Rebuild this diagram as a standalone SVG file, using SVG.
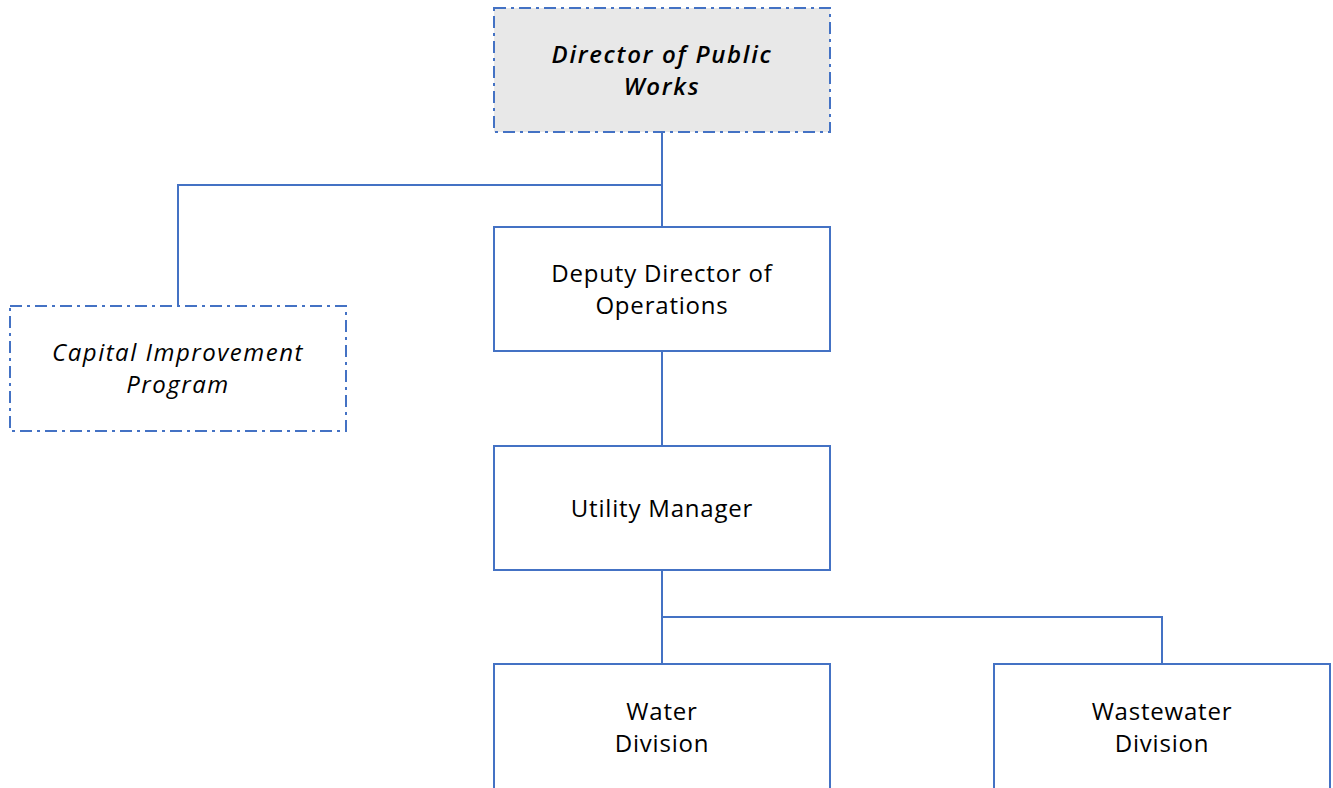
<svg xmlns="http://www.w3.org/2000/svg" width="1333" height="788" viewBox="0 0 1333 788">
  <style>
    .box { fill: #ffffff; stroke: #4472c4; stroke-width: 2; }
    .dashed { stroke-dasharray: 12 5 3 5; }
    .grey { fill: #e8e8e8; }
    .lbl { font-family: "Open Sans", Lato, sans-serif; font-size: 24px; fill: #000000; text-anchor: middle; letter-spacing: 0.8px; }
    .ital { font-style: italic; letter-spacing: 1.5px; }
    .bold { font-weight: 600; letter-spacing: 1.7px; }
    .conn { fill: none; stroke: #4472c4; stroke-width: 2; }
  </style>
  <rect width="1333" height="788" fill="#ffffff"/>

  <g id="connectors">
    <path class="conn" d="M662 132 V227"/>
    <path class="conn" d="M662 185 H178 V306"/>
    <path class="conn" d="M662 351 V446"/>
    <path class="conn" d="M662 570 V664"/>
    <path class="conn" d="M662 617 H1162 V664"/>
  </g>

  <g id="director">
    <rect class="box dashed grey" x="494" y="8" width="336" height="124"/>
    <text class="lbl ital bold" x="662" y="63">Director of Public</text>
    <text class="lbl ital bold" x="662" y="95">Works</text>
  </g>

  <g id="cip">
    <rect class="box dashed" x="10" y="306" width="336" height="125"/>
    <text class="lbl ital" x="178" y="361">Capital Improvement</text>
    <text class="lbl ital" x="178" y="393">Program</text>
  </g>

  <g id="deputy">
    <rect class="box" x="494" y="227" width="336" height="124"/>
    <text class="lbl" x="662" y="282">Deputy Director of</text>
    <text class="lbl" x="662" y="314">Operations</text>
  </g>

  <g id="utility">
    <rect class="box" x="494" y="446" width="336" height="124"/>
    <text class="lbl" x="662" y="517">Utility Manager</text>
  </g>

  <g id="water">
    <rect class="box" x="494" y="664" width="336" height="140"/>
    <text class="lbl" x="662" y="720">Water</text>
    <text class="lbl" x="662" y="752">Division</text>
  </g>

  <g id="wastewater">
    <rect class="box" x="994" y="664" width="336" height="140"/>
    <text class="lbl" x="1162" y="720">Wastewater</text>
    <text class="lbl" x="1162" y="752">Division</text>
  </g>
</svg>
